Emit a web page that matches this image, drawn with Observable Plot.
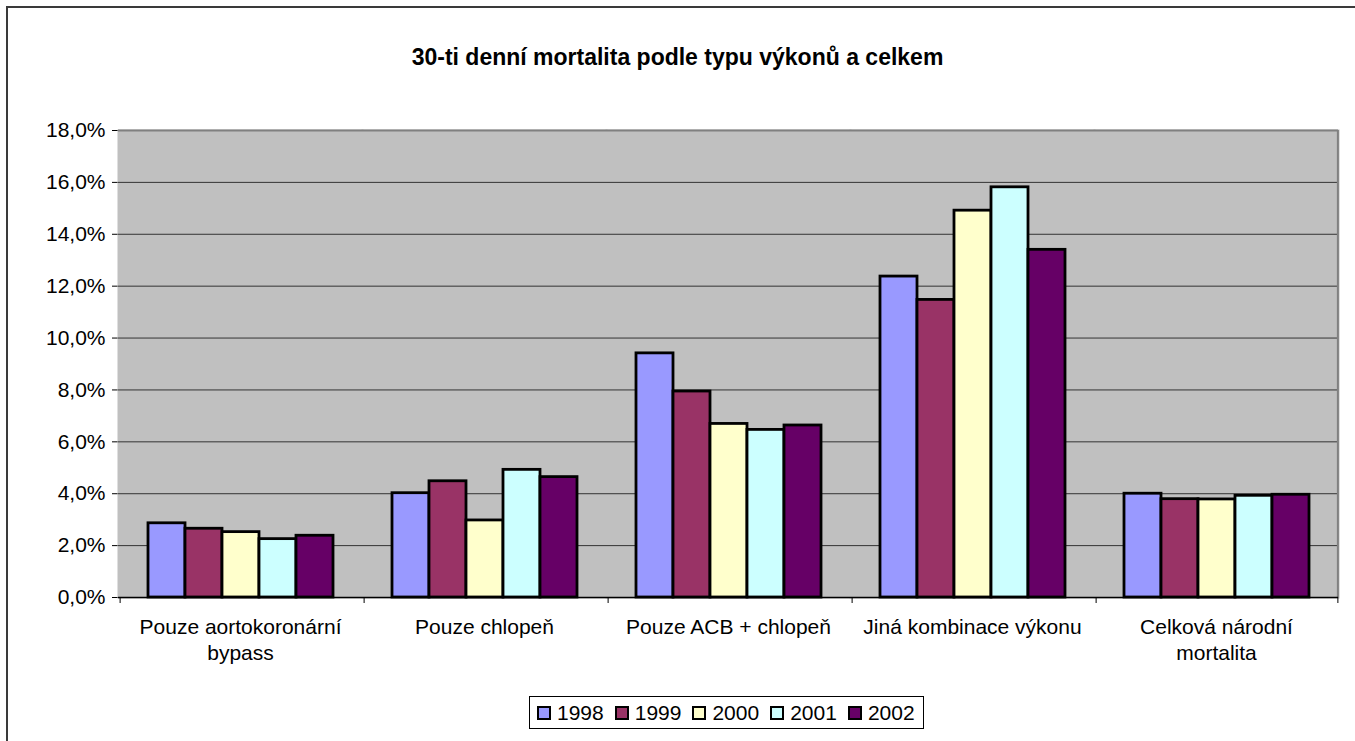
<!DOCTYPE html>
<html>
<head>
<meta charset="utf-8">
<script src="https://cdn.jsdelivr.net/npm/d3@7"></script>
<script src="https://cdn.jsdelivr.net/npm/@observablehq/plot@0.6"></script>
<style>
  html, body { margin: 0; padding: 0; background: #fff; overflow: hidden; width: 1355px; height: 741px; }
  body { position: relative; font-family: "Liberation Sans", Arial, sans-serif; }
  #border { position: absolute; left: 6px; top: 6px; width: 1400px; height: 800px; border-left: 2px solid #3a3a3a; border-top: 2px solid #3a3a3a; box-sizing: border-box; }
  #title { position: absolute; left: 0; width: 1355px; top: 43px; text-align: center; font-weight: bold; font-size: 23px; line-height: 28px; color: #000; }
  #chart { position: absolute; left: 0; top: 110px; }
  #legend { position: absolute; left: 529px; top: 696px; width: 395px; height: 33px; border: 1.5px solid #000; box-sizing: border-box; display: flex; align-items: center; padding-left: 7px; font-size: 21px; color: #000; }
  .item { display: flex; align-items: center; margin-right: 11px; }
  .sw { width: 10px; height: 10px; border: 2px solid #000; margin-right: 6px; }
</style>
</head>
<body>
<div id="border"></div>
<div id="title">30-ti denní mortalita podle typu výkonů a celkem</div>
<div id="chart"></div>
<div id="legend"></div>
<script>
// ---- data ----
const categories = [
  "Pouze aortokoronární\nbypass",
  "Pouze chlopeň",
  "Pouze ACB + chlopeň",
  "Jiná kombinace výkonu",
  "Celková národní\nmortalita"
];
const years = ["1998", "1999", "2000", "2001", "2002"];
const v1998 = [2.86, 4.02, 9.41, 12.37, 4.00];
const v1999 = [2.65, 4.48, 7.94, 11.47, 3.79];
const v2000 = [2.52, 2.97, 6.69, 14.91, 3.78];
const v2001 = [2.25, 4.92, 6.46, 15.81, 3.92];
const v2002 = [2.38, 4.64, 6.63, 13.40, 3.96];
const yTicks = [0, 2, 4, 6, 8, 10, 12, 14, 16, 18];
const colors = ["#9999FF", "#993366", "#FFFFCC", "#CCFFFF", "#660066"];

const series = [v1998, v1999, v2000, v2001, v2002];
const rows = [];
categories.forEach((c, ci) => {
  years.forEach((y, yi) => rows.push({cat: c, year: y, value: series[yi][ci]}));
});

// ---- layout ----
const W = 1355, H = 570, ML = 117, MR = 16, MT = 20, MB = 83;
const padOuter = 0.745;
const facetW = (W - ML - MR) / categories.length;
const step = facetW / (years.length + 2 * padOuter);
const edgeOffset = (padOuter + 0.5) * step;
const plotH = H - MT - MB;

const fmt = d => d.toFixed(1).replace(".", ",") + "%";

const chart = Plot.plot({
  width: W, height: H,
  marginLeft: ML, marginRight: MR, marginTop: MT, marginBottom: MB,
  style: {fontFamily: "'Liberation Sans', Arial, sans-serif", fontSize: "21px", color: "#000", background: "transparent"},
  fx: {domain: categories, padding: 0, axis: null},
  x: {domain: years, paddingInner: 0, paddingOuter: padOuter, axis: null},
  y: {domain: [0, 18], ticks: yTicks, tickFormat: fmt, label: null, tickSize: 6, tickPadding: 7, line: true},
  color: {domain: years, range: colors},
  marks: [
    Plot.frame({fill: "#c0c0c0", stroke: "#c0c0c0", strokeWidth: 2}),
    Plot.ruleY(yTicks.filter(t => t > 0 && t < 18), {stroke: "#333", strokeWidth: 1}),
    Plot.ruleY([18], {stroke: "#808080", strokeWidth: 2}),
    Plot.ruleX([categories[categories.length - 1]], {fx: d => d, x: () => years[years.length - 1], dx: edgeOffset, stroke: "#808080", strokeWidth: 2}),
    Plot.barY(rows, {fx: "cat", x: "year", y: "value", fill: "year", stroke: "#000", strokeWidth: 2.8}),
    Plot.ruleY([0], {stroke: "#000", strokeWidth: 1.5}),
    Plot.ruleX(categories, {fx: d => d, x: () => years[0], dx: -edgeOffset, insetTop: plotH, insetBottom: -6, stroke: "#000", strokeWidth: 1}),
    Plot.ruleX([categories[categories.length - 1]], {fx: d => d, x: () => years[years.length - 1], dx: edgeOffset, insetTop: plotH, insetBottom: -6, stroke: "#000", strokeWidth: 1}),
    Plot.axisFx({anchor: "bottom", tickSize: 0, tickPadding: 19, label: null, lineHeight: 1.2, fontSize: 21})
  ]
});
document.getElementById("chart").appendChild(chart);

// ---- legend ----
const leg = document.getElementById("legend");
years.forEach((y, i) => {
  const it = document.createElement("div");
  it.className = "item";
  const sw = document.createElement("div");
  sw.className = "sw";
  sw.style.background = colors[i];
  const t = document.createElement("span");
  t.textContent = y;
  it.appendChild(sw); it.appendChild(t);
  leg.appendChild(it);
});
</script>
</body>
</html>
